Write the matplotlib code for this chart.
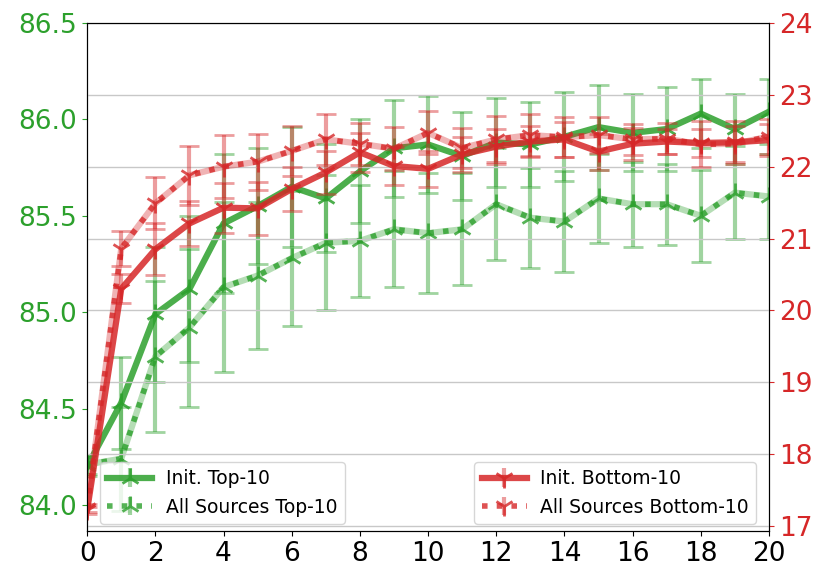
import matplotlib
matplotlib.use("Agg")
import numpy as np
import matplotlib.pyplot as plt

steps = list(range(21))

# left axis (green)
init_top = [84.20, 84.53, 84.99, 85.12, 85.46, 85.55, 85.65, 85.59, 85.73, 85.85, 85.87,
            85.81, 85.88, 85.87, 85.91, 85.96, 85.93, 85.95, 86.03, 85.95, 86.04]
init_top_err = [0.05, 0.24, 0.35, 0.38, 0.36, 0.30, 0.31, 0.28, 0.27, 0.25, 0.25,
                0.23, 0.23, 0.22, 0.23, 0.22, 0.20, 0.22, 0.18, 0.18, 0.17]
all_top = [84.21, 84.24, 84.77, 84.92, 85.13, 85.19, 85.28, 85.36, 85.37, 85.43, 85.41,
           85.43, 85.56, 85.49, 85.47, 85.59, 85.56, 85.56, 85.50, 85.62, 85.60]
all_top_err = [0.05, 0.27, 0.39, 0.41, 0.44, 0.38, 0.35, 0.35, 0.29, 0.30, 0.31,
               0.29, 0.29, 0.26, 0.26, 0.23, 0.22, 0.21, 0.24, 0.24, 0.22]

# right axis (red)
init_bot = [17.22, 20.30, 20.85, 21.21, 21.43, 21.42, 21.69, 21.92, 22.20, 22.01, 21.97,
            22.17, 22.28, 22.35, 22.38, 22.21, 22.32, 22.35, 22.33, 22.34, 22.37]
init_bot_err = [0.05, 0.20, 0.36, 0.31, 0.35, 0.37, 0.31, 0.30, 0.27, 0.27, 0.25,
                0.24, 0.24, 0.21, 0.24, 0.25, 0.22, 0.18, 0.20, 0.30, 0.22]
all_bot = [17.25, 20.86, 21.49, 21.88, 22.00, 22.07, 22.22, 22.38, 22.32, 22.25, 22.47,
           22.26, 22.38, 22.44, 22.41, 22.44, 22.38, 22.39, 22.31, 22.32, 22.42]
all_bot_err = [0.05, 0.24, 0.36, 0.41, 0.44, 0.39, 0.35, 0.35, 0.29, 0.30, 0.30,
               0.28, 0.32, 0.29, 0.28, 0.25, 0.22, 0.22, 0.32, 0.25, 0.24]

green = '#2ca02c'
red = '#d62728'

fig = plt.figure(figsize=(8.3, 5.85), dpi=100)
ax1 = fig.add_axes([0.105, 0.0923, 0.8215, 0.8684])
ax2 = ax1.twinx()


def draw(ax, x, y, err, color, marker, ls, lw, line_alpha, label, capsize=7):
    e = ax.errorbar(x, y, yerr=err, color=color, marker=marker, ls=ls, lw=lw,
                    label=label, elinewidth=3, capsize=capsize, capthick=1.5,
                    markersize=15, markeredgewidth=2)
    e[0].set_alpha(line_alpha)
    for c in e[1]:
        c.set_alpha(0.45)
    for b in e[2]:
        b.set_alpha(0.45)
    return e


# green series
draw(ax1, steps, init_top, init_top_err, green, '2', '-', 4.5, 0.85, '_nolegend_')
ax1.plot(steps, all_top, color=green, lw=4.5, alpha=0.35)
draw(ax1, steps, all_top, all_top_err, green, '2', ':', 4, 0.8, '_nolegend_')

# red series
draw(ax2, steps, init_bot, init_bot_err, red, '1', '-', 4.5, 0.85, '_nolegend_')
ax2.plot(steps, all_bot, color=red, lw=4.5, alpha=0.35)
draw(ax2, steps, all_bot, all_bot_err, red, '1', ':', 4, 0.8, '_nolegend_')

# legend proxies (no caps in the legend keys)
nan = [np.nan]
h1 = draw(ax1, nan, nan, nan, green, '2', '-', 4.5, 0.85, 'Init. Top-10', capsize=0)
h2 = draw(ax1, nan, nan, nan, green, '2', ':', 4, 0.8, 'All Sources Top-10', capsize=0)
h3 = draw(ax2, nan, nan, nan, red, '1', '-', 4.5, 0.85, 'Init. Bottom-10', capsize=0)
h4 = draw(ax2, nan, nan, nan, red, '1', ':', 4, 0.8, 'All Sources Bottom-10', capsize=0)

ax1.set_xlim(0, 20)
ax1.set_xticks(range(0, 21, 2))
ax1.set_ylim(83.865, 86.5)
ax1.set_yticks([84.0, 84.5, 85.0, 85.5, 86.0, 86.5])
ax2.set_ylim(16.93, 24)
ax2.set_yticks(range(17, 25))

ax2.grid(axis='y', color='#c8c8c8', lw=1)
ax2.set_axisbelow(True)

ax1.tick_params(axis='x', labelsize=19)
ax1.tick_params(axis='y', colors=green, labelsize=19)
ax2.tick_params(axis='y', colors=red, labelsize=19)
for ax in (ax1, ax2):
    for s in ax.spines.values():
        s.set_color('black')
        s.set_zorder(5)

ax1.legend(handles=[h1, h2], loc='lower left', fontsize=13.5, handlelength=2.4,
           handletextpad=0.7, bbox_to_anchor=(0.005, -0.005))
ax2.legend(handles=[h3, h4], loc='lower right', fontsize=13.5, handlelength=2.4,
           handletextpad=0.7, bbox_to_anchor=(0.995, -0.005))

plt.savefig('out.png', dpi=100)
